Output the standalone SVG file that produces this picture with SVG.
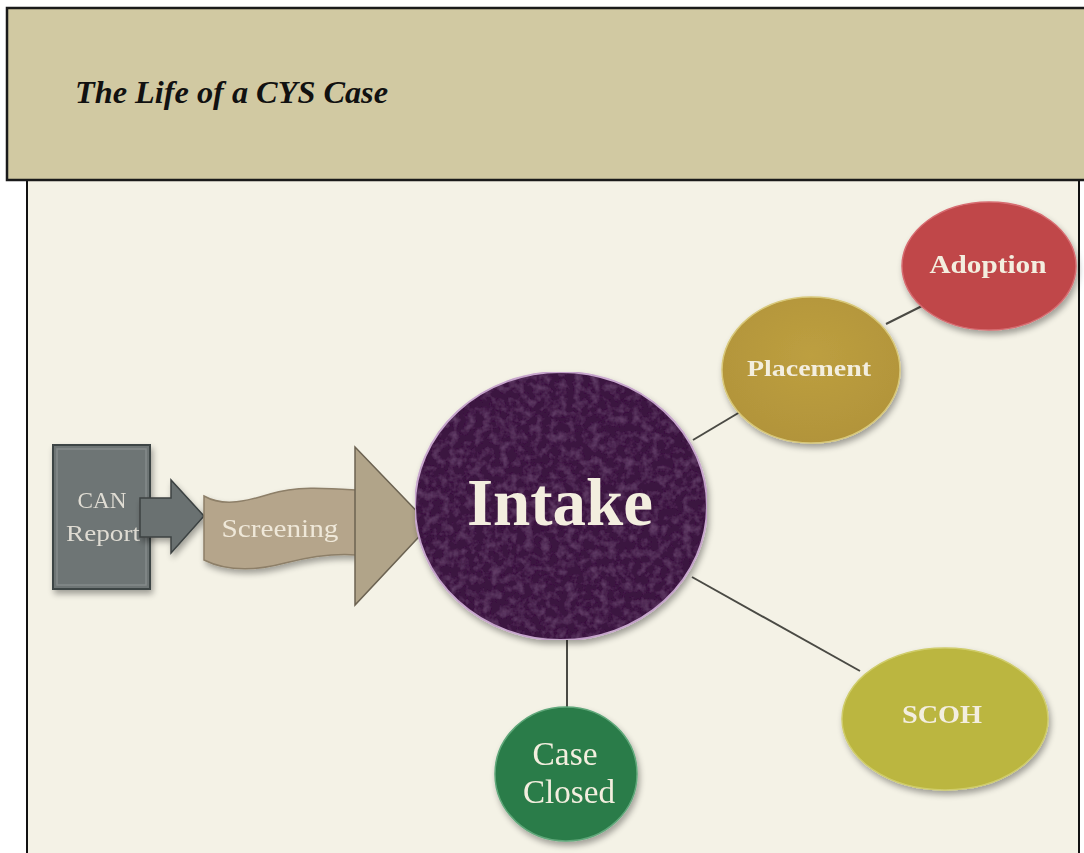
<svg xmlns="http://www.w3.org/2000/svg" width="1084" height="853" viewBox="0 0 1084 853">
<style>
.lbl{font-family:"Liberation Serif","DejaVu Serif",serif;fill:#f3eedf;text-anchor:middle}
.b{font-weight:bold}
.conn{stroke:#4a4a44;stroke-width:2;fill:none}
</style>
<defs>
<filter id="shadow" x="-20%" y="-20%" width="140%" height="140%">
<feGaussianBlur in="SourceAlpha" stdDeviation="3"/>
<feOffset dx="2" dy="4" result="b"/>
<feComponentTransfer><feFuncA type="linear" slope="0.35"/></feComponentTransfer>
<feMerge><feMergeNode/><feMergeNode in="SourceGraphic"/></feMerge>
</filter>
<filter id="tex" x="0" y="0" width="100%" height="100%">
<feTurbulence type="fractalNoise" baseFrequency="0.12" numOctaves="3" seed="4" result="n"/>
<feColorMatrix in="n" type="matrix" values="0 0 0 0 0.33  0 0 0 0 0.15  0 0 0 0 0.36  0 0 0 0.6 -0.25" result="c"/>
<feComposite in="c" in2="SourceGraphic" operator="in" result="t"/>
<feMerge><feMergeNode in="SourceGraphic"/><feMergeNode in="t"/></feMerge>
</filter>
<radialGradient id="gPlace" cx="50%" cy="40%" r="60%"><stop offset="0" stop-color="#bd9f40"/><stop offset="1" stop-color="#b2943a"/></radialGradient>
</defs>
<rect x="0" y="0" width="1084" height="853" fill="#ffffff"/>
<g id="panel">
<rect x="27" y="180" width="1052" height="680" fill="#f4f2e6" stroke="#111" stroke-width="2"/>
</g>
<g id="header">
<rect x="7" y="8" width="1085" height="172" fill="#d1c9a2" stroke="#1a1a1a" stroke-width="2.5"/>
<text x="75" y="103" font-family="Liberation Serif, serif" font-style="italic" font-weight="bold" font-size="31" fill="#111" textLength="313" lengthAdjust="spacingAndGlyphs">The Life of a CYS Case</text>
</g>
<g id="connectors">
<line class="conn" x1="693" y1="440" x2="740" y2="412"/>
<line class="conn" x1="886" y1="324" x2="922" y2="306"/>
<line class="conn" x1="692" y1="577" x2="860" y2="671"/>
<line class="conn" x1="567" y1="638" x2="567" y2="710"/>
</g>
<g id="can-report" filter="url(#shadow)">
<rect x="53" y="445" width="97" height="144" fill="#6e7474" stroke="#3e4444" stroke-width="2"/>
<rect x="57" y="449" width="89" height="136" fill="none" stroke="#858b8b" stroke-width="1.5"/>
<text class="lbl" x="102" y="508" font-size="24" style="fill:#dfdcd3" textLength="49" lengthAdjust="spacingAndGlyphs">CAN</text>
<text class="lbl" x="103" y="541" font-size="23" style="fill:#dfdcd3" textLength="74" lengthAdjust="spacingAndGlyphs">Report</text>
</g>
<g id="gray-arrow" filter="url(#shadow)">
<path d="M140 498 L171 498 L171 480 L204 516 L171 553 L171 537 L140 537 Z" fill="#6a7171" stroke="#3c4242" stroke-width="1.5"/>
</g>
<g id="screening" filter="url(#shadow)">
<path d="M204 496 C225 508 250 500 270 494 C295 486 325 488 356 490 L356 555 C330 553 305 558 285 563 C255 571 228 572 204 560 Z" fill="#b5a58b" stroke="#8d7f68" stroke-width="1.5"/>
<text class="lbl" x="280" y="537" font-size="25" style="fill:#efe8d9" textLength="117" lengthAdjust="spacingAndGlyphs">Screening</text>
</g>
<g id="big-arrow">
<path d="M355 447 L430 525 L355 605 Z" fill="#b1a489" stroke="#6c6352" stroke-width="1.5"/>
</g>
<g id="intake" filter="url(#shadow)">
<ellipse cx="561" cy="506" rx="146" ry="134" fill="#3a173f" stroke="#c9a8cf" stroke-width="2" filter="url(#tex)"/>
<text class="lbl b" x="560" y="525" font-size="67" textLength="186" lengthAdjust="spacingAndGlyphs">Intake</text>
</g>
<g id="placement" filter="url(#shadow)">
<ellipse cx="811" cy="370" rx="89" ry="73" fill="url(#gPlace)" stroke="#d8c87a" stroke-width="1.5"/>
<text class="lbl b" x="809" y="376" font-size="24" textLength="124" lengthAdjust="spacingAndGlyphs">Placement</text>
</g>
<g id="adoption" filter="url(#shadow)">
<ellipse cx="989" cy="266" rx="87" ry="64" fill="#c0464a" stroke="#d66c70" stroke-width="1.5"/>
<text class="lbl b" x="988" y="273" font-size="25" textLength="117" lengthAdjust="spacingAndGlyphs">Adoption</text>
</g>
<g id="scoh" filter="url(#shadow)">
<ellipse cx="945" cy="719" rx="103" ry="71" fill="#bbb63f" stroke="#cfcc6a" stroke-width="1.5"/>
<text class="lbl b" x="942" y="723" font-size="26" textLength="80" lengthAdjust="spacingAndGlyphs">SCOH</text>
</g>
<g id="case-closed" filter="url(#shadow)">
<ellipse cx="566" cy="774" rx="71" ry="67" fill="#2b7c48" stroke="#5fa77a" stroke-width="1.5"/>
<text class="lbl" x="565" y="765" font-size="34" textLength="65" lengthAdjust="spacingAndGlyphs">Case</text>
<text class="lbl" x="569" y="803" font-size="34" textLength="92" lengthAdjust="spacingAndGlyphs">Closed</text>
</g>
</svg>
